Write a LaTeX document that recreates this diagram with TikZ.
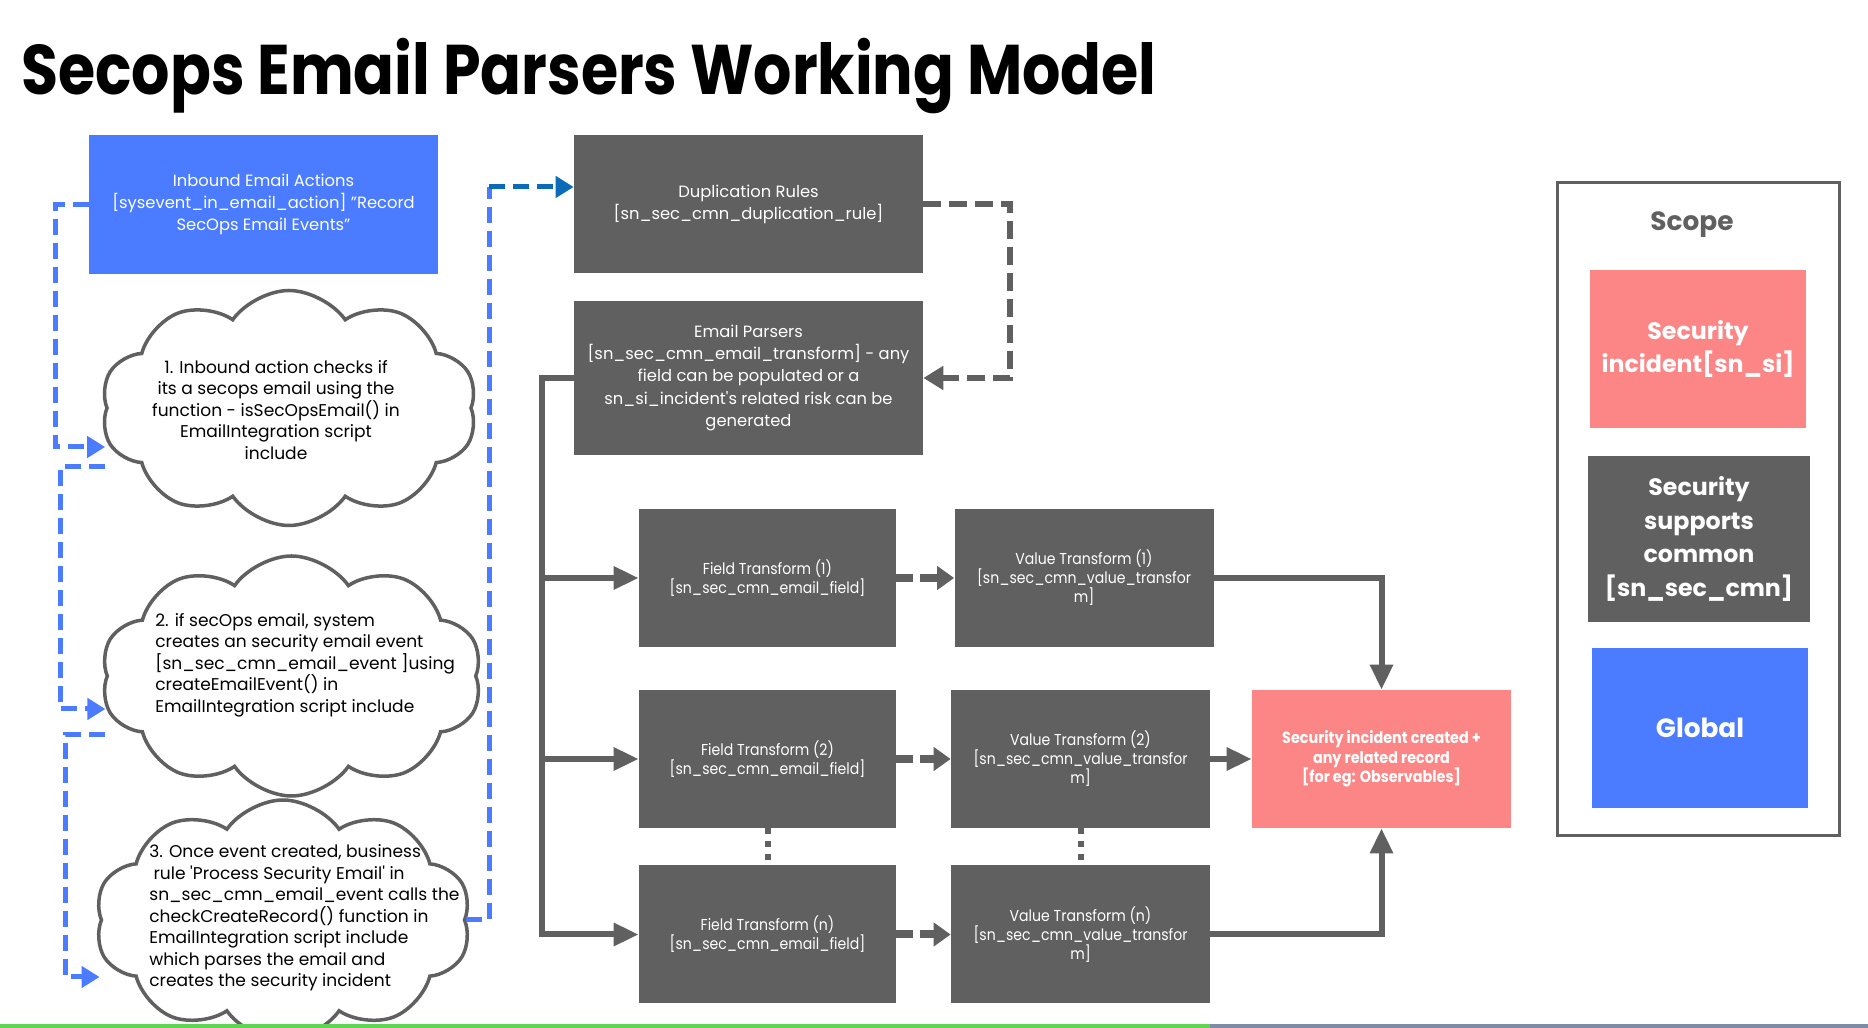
\documentclass[tikz,border=0pt]{standalone}
\usepackage{fontspec}
\setmainfont{Poppins}
\newfontfamily\titlefont{Poppins}[FakeStretch=0.857]
\newfontfamily\narrowfont{Poppins}[FakeStretch=0.89]
\usetikzlibrary{arrows.meta, positioning, calc, shapes.symbols}
\definecolor{opsblue}{HTML}{4B7BFE}
\definecolor{deepblue}{HTML}{0B6BB8}
\definecolor{slate}{HTML}{606060}
\definecolor{salmon}{HTML}{FC8585}
\definecolor{stripgreen}{HTML}{5FD651}
\definecolor{stripgray}{HTML}{7F8BA6}

\begin{document}
\begin{tikzpicture}[
  every node/.style={text=white, inner sep=2pt},
  box/.style={fill=slate, minimum width=6.98cm, align=center, font=\fontsize{9.3}{12.6}\selectfont},
  fieldbox/.style={fill=slate, minimum width=5.14cm, minimum height=2.76cm, align=center, font=\narrowfont\fontsize{9}{10.8}\selectfont},
  valuebox/.style={fieldbox, minimum width=5.18cm},
  puff/.style={cloud, draw=slate, fill=white, line width=0.07cm, cloud puffs=10, cloud puff arc=110, cloud ignores aspect, minimum width=7.52cm, minimum height=4.7cm},
  note/.style={text=black, inner sep=0pt, font=\fontsize{9.7}{12.2}\selectfont},
  scopecard/.style={minimum width=4.32cm, minimum height=3.2cm, align=center, font=\fontsize{13.5}{19}\selectfont\bfseries},
  bluedash/.style={opsblue, line width=0.1cm, dash pattern=on 0.32cm off 0.16cm},
  bluearrow/.style={bluedash, -{Triangle[length=0.36cm, width=0.42cm]}},
  graydash/.style={slate, line width=0.12cm, dash pattern=on 0.36cm off 0.16cm, -{Triangle[length=0.4cm, width=0.46cm]}},
  flow/.style={slate, line width=0.12cm, -{Triangle[length=0.5cm, width=0.44cm]}},
  hop/.style={slate, line width=0.16cm, dash pattern=on 0.34cm off 0.14cm, -{Triangle[length=0.34cm, width=0.46cm]}},
  dotline/.style={slate, line width=0.12cm, dash pattern=on 0.12cm off 0.14cm},
]

% Background
\fill[white] (0,0) rectangle (37.36,20.56);
\useasboundingbox (0,0) rectangle (37.36,20.56);

% Title
\node[anchor=base west, text=black, inner sep=0pt, font=\titlefont\bfseries\fontsize{40}{44}\selectfont] (title) at (0.42,18.66) {Secops Email Parsers Working Model};

% Inbound action
\node[box, fill=opsblue, minimum height=2.78cm] (inbound) at (5.27,16.47) {Inbound Email Actions\\{}[sysevent\_in\_email\_action] "Record\\SecOps Email Events"};

% Clouds with the three steps
\node[puff] (cloud1) at (5.78,12.40) {};
\node[note, align=center] (step1) at (5.52,12.36) {1. Inbound action checks if\\its a secops email using the\\function - isSecOpsEmail() in\\EmailIntegration script\\include};
\node[puff, minimum width=7.62cm, minimum height=4.8cm] (cloud2) at (5.83,7.04) {};
\node[note, align=left, anchor=west] (step2) at (3.10,7.26) {2. if secOps email, system\\creates an security email event\\{}[sn\_sec\_cmn\_email\_event ]using\\createEmailEvent() in\\EmailIntegration script include};
\node[puff, minimum height=4.8cm] (cloud3) at (5.66,2.16) {};
\node[note, align=left, anchor=west] (step3) at (2.98,2.20) {3. Once event created, business\\\hspace*{0.25em}rule \textquotesingle Process Security Email\textquotesingle{} in\\sn\_sec\_cmn\_email\_event calls the\\checkCreateRecord() function in\\EmailIntegration script include\\which parses the email and\\creates the security incident};

% Duplication rules and parsers
\node[box, minimum height=2.76cm] (dup) at (14.97,16.48) {Duplication Rules\\{}[sn\_sec\_cmn\_duplication\_rule]};
\node[box, minimum height=3.08cm] (parsers) at (14.97,13.00) {Email Parsers\\{}[sn\_sec\_cmn\_email\_transform] - any\\field can be populated or a\\sn\_si\_incident\textquotesingle s related risk can be\\generated};

% Field transforms
\node[fieldbox] (field1) at (15.35,9.00) {Field Transform (1)\\{}[sn\_sec\_cmn\_email\_field]};
\node[fieldbox] (field2) at (15.35,5.38) {Field Transform (2)\\{}[sn\_sec\_cmn\_email\_field]};
\node[fieldbox] (fieldn) at (15.35,1.87) {Field Transform (n)\\{}[sn\_sec\_cmn\_email\_field]};

% Value transforms
\node[valuebox] (value1) at (21.68,9.00) {Value Transform (1)\\{}[sn\_sec\_cmn\_value\_transfor\\m]};
\node[valuebox] (value2) at (21.61,5.38) {Value Transform (2)\\{}[sn\_sec\_cmn\_value\_transfor\\m]};
\node[valuebox] (valuen) at (21.61,1.87) {Value Transform (n)\\{}[sn\_sec\_cmn\_value\_transfor\\m]};

% Resulting incident
\node[valuebox, fill=salmon, font=\narrowfont\fontsize{9.2}{11}\selectfont\bfseries] (incident) at (27.63,5.38) {Security incident created +\\any related record\\{}[for eg: Observables]};

% Scope legend
\node[draw=slate, line width=0.06cm, minimum width=5.64cm, minimum height=13.06cm] (scope) at (33.96,10.37) {};
\node[text=slate, font=\fontsize{15}{19}\selectfont\bfseries] (scopetitle) at (33.84,16.06) {Scope};
\node[scopecard, fill=salmon, minimum height=3.16cm] (scopesi) at (33.96,13.58) {Security\\incident[sn\_si]};
\node[scopecard, fill=slate, minimum width=4.44cm, minimum height=3.32cm] (scopecmn) at (33.98,9.78) {Security\\supports\\common\\{}[sn\_sec\_cmn]};
\node[scopecard, fill=opsblue, font=\fontsize{15}{19}\selectfont\bfseries] (scopeglobal) at (34.00,6.00) {Global};

% Left hand dashed step arrows
\draw[bluearrow] (inbound.west) -- ++(-0.66,0) |- ([yshift=-0.78cm]cloud1.west);
\draw[bluearrow] ([yshift=-1.18cm]cloud1.west) -- ++(-0.90,0) |- ([yshift=-0.66cm]cloud2.west);
\draw[bluearrow] ([yshift=-1.18cm]cloud2.west) -- ++(-0.80,0) |- ([yshift=-1.14cm]cloud3.west);

% Step 3 hands over to the duplication rules
\coordinate (dupin) at ([yshift=0.34cm]dup.west);
\draw[bluedash] (cloud3.east) -- ++(0.46,0) coordinate (rise) -- (rise |- dupin);
\draw[bluearrow, deepblue] (rise |- dupin) -- (dupin);

% Duplication check loops back into the parsers
\draw[graydash] (dup.east) -- ++(1.74,0) |- (parsers.east);

% Parsers feed every field transform
\draw[flow] (parsers.west) -- ++(-0.64,0) coordinate (trunk) |- (fieldn.west);
\draw[flow] (trunk |- field1.west) -- (field1.west);
\draw[flow] (trunk |- field2.west) -- (field2.west);

% Field to value hand off
\draw[hop] (field1.east) -- (value1.west);
\draw[hop] (field2.east) -- (value2.west);
\draw[hop] (fieldn.east) -- (valuen.west);
\draw[dotline] (field2.south) -- (fieldn.north);
\draw[dotline] (value2.south) -- (valuen.north);

% Values build the security incident
\draw[flow] (value1.east) -| (incident.north);
\draw[flow] (value2.east) -- (incident.west);
\draw[flow] (valuen.east) -| (incident.south);

% Bottom strip
\fill[stripgreen] (0,0) rectangle (24.20,0.08);
\fill[stripgray] (24.20,0) rectangle (37.36,0.08);

\end{tikzpicture}
\end{document}
